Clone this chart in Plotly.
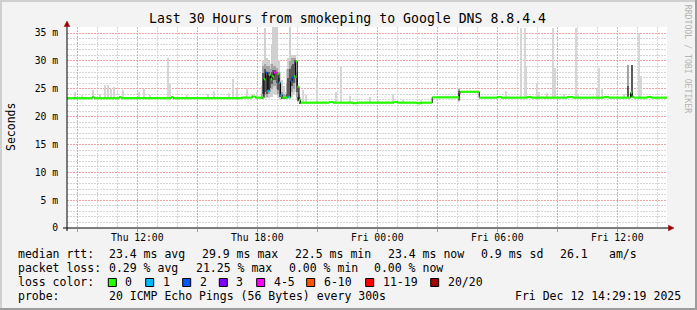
import plotly.graph_objects as go
import pandas as pd
import numpy as np

# ---------------- data ----------------
# median RTT (ms) per step, with lost pings (out of 20) for that step
med_times = [
    "2025-12-11 08:29", "2025-12-11 09:45", "2025-12-11 09:51", "2025-12-11 11:06", "2025-12-11 11:12",
    "2025-12-11 13:42", "2025-12-11 13:48", "2025-12-11 17:12", "2025-12-11 17:45", "2025-12-11 17:54",
    "2025-12-11 18:15", "2025-12-11 18:20", "2025-12-11 18:25", "2025-12-11 18:30", "2025-12-11 18:35",
    "2025-12-11 18:40", "2025-12-11 18:45", "2025-12-11 18:50", "2025-12-11 18:55", "2025-12-11 19:00",
    "2025-12-11 19:05", "2025-12-11 19:10", "2025-12-11 19:15", "2025-12-11 19:20", "2025-12-11 19:25",
    "2025-12-11 19:30", "2025-12-11 19:35", "2025-12-11 19:40", "2025-12-11 19:45", "2025-12-11 19:50",
    "2025-12-11 19:55", "2025-12-11 20:00", "2025-12-11 20:05", "2025-12-11 20:10", "2025-12-11 21:36",
    "2025-12-11 21:48", "2025-12-11 22:48", "2025-12-11 23:00", "2025-12-12 00:50", "2025-12-12 01:02",
    "2025-12-12 02:00", "2025-12-12 02:12", "2025-12-12 02:45", "2025-12-12 04:06", "2025-12-12 04:09",
    "2025-12-12 05:06", "2025-12-12 06:00", "2025-12-12 06:12", "2025-12-12 07:30", "2025-12-12 07:42",
    "2025-12-12 09:30", "2025-12-12 09:48", "2025-12-12 11:20", "2025-12-12 11:35", "2025-12-12 12:40",
    "2025-12-12 12:45", "2025-12-12 12:50", "2025-12-12 13:30", "2025-12-12 13:42", "2025-12-12 14:29",
]
med_ms = [
    23.3, 23.5, 23.3, 23.5, 23.3,
    23.5, 23.3, 23.4, 23.6, 23.4,
    23.4, 26.7, 27.9, 24.6, 27.5,
    26.7, 27.2, 27.9, 27.9, 27.7,
    26.1, 23.9, 23.4, 23.4, 23.4,
    23.5, 23.4, 26.4, 27.0, 27.2,
    29.9, 25.4, 23.0, 22.5, 22.6,
    22.5, 22.4, 22.5, 22.6, 22.5,
    22.4, 22.5, 23.45, 24.2, 24.45,
    23.4, 23.5, 23.4, 23.5, 23.4,
    23.5, 23.4, 23.5, 23.4, 24.3,
    23.6, 23.4, 23.5, 23.4, 23.4,
]
med_loss = [
    0, 0, 0, 0, 0,
    0, 0, 0, 0, 0,
    0, 0, 2, 1, 0,
    0, 0, 4, 4, 0,
    1, 1, 0, 0, 0,
    1, 0, 2, 2, 0,
    0, 0, 0, 0, 0,
    0, 0, 0, 0, 0,
    0, 0, 0, 4, 0,
    0, 0, 0, 0, 0,
    0, 0, 0, 0, 0,
    0, 0, 0, 0, 0,
]

# light smoke spikes (max ping) outside the busy period
spike_times = [
    "2025-12-11 08:54", "2025-12-11 09:15", "2025-12-11 09:48", "2025-12-11 10:09", "2025-12-11 10:24",
    "2025-12-11 10:33", "2025-12-11 10:42", "2025-12-11 10:51", "2025-12-11 11:18", "2025-12-11 12:06",
    "2025-12-11 12:21", "2025-12-11 12:39", "2025-12-11 13:33", "2025-12-11 13:39", "2025-12-11 14:30",
    "2025-12-11 15:33", "2025-12-11 15:51", "2025-12-11 16:36", "2025-12-11 16:48", "2025-12-11 17:00",
    "2025-12-11 17:30", "2025-12-11 17:45", "2025-12-11 18:00", "2025-12-11 20:18", "2025-12-11 20:27",
    "2025-12-11 21:00", "2025-12-11 21:57", "2025-12-11 22:12", "2025-12-11 22:39", "2025-12-11 23:39",
    "2025-12-12 00:03", "2025-12-12 00:48", "2025-12-12 01:18", "2025-12-12 02:12", "2025-12-12 06:26",
    "2025-12-12 07:11", "2025-12-12 07:24", "2025-12-12 07:27", "2025-12-12 07:59", "2025-12-12 08:05",
    "2025-12-12 08:29", "2025-12-12 08:47", "2025-12-12 08:54", "2025-12-12 09:19", "2025-12-12 09:57",
    "2025-12-12 10:03", "2025-12-12 10:59", "2025-12-12 11:04", "2025-12-12 11:15", "2025-12-12 12:19",
    "2025-12-12 13:06", "2025-12-12 13:12",
]
spike_hi = [
    24.5, 23.9, 24.8, 24.1, 25.7,
    25.7, 24.9, 25.3, 24.8, 24.5,
    24.9, 23.9, 30.6, 26.0, 23.9,
    24.0, 24.6, 24.3, 26.7, 24.9,
    25.1, 24.0, 24.5, 24.8, 23.8,
    27.0, 24.5, 29.1, 23.7, 23.5,
    23.0, 24.0, 22.9, 22.9, 24.6,
    35.9, 35.9, 29.0, 26.0, 24.5,
    24.2, 35.9, 28.7, 24.0, 35.9,
    24.0, 25.0, 28.8, 25.2, 24.0,
    35.0, 27.3,
]

# busy-period smoke (5-minute steps): full range, middle band, core band
busy_times = [
    "2025-12-11 18:15", "2025-12-11 18:20", "2025-12-11 18:25", "2025-12-11 18:30", "2025-12-11 18:35",
    "2025-12-11 18:40", "2025-12-11 18:45", "2025-12-11 18:50", "2025-12-11 18:55", "2025-12-11 19:00",
    "2025-12-11 19:05", "2025-12-11 19:10", "2025-12-11 19:15", "2025-12-11 19:20", "2025-12-11 19:25",
    "2025-12-11 19:30", "2025-12-11 19:35", "2025-12-11 19:40", "2025-12-11 19:45", "2025-12-11 19:50",
    "2025-12-11 19:55", "2025-12-11 20:00", "2025-12-11 20:05", "2025-12-11 20:10",
    "2025-12-12 04:06", "2025-12-12 12:34", "2025-12-12 12:46",
]
busy_lo = [23.2, 23.3, 23.4, 23.3, 23.4, 23.5, 23.6, 24.0, 24.0, 23.8, 23.4, 23.2, 23.2, 23.2, 23.2,
           23.2, 23.3, 23.4, 23.6, 24.0, 24.5, 23.2, 22.6, 22.3, 22.7, 23.3, 23.3]
busy_hi = [25.5, 30.2, 35.9, 30.5, 30.0, 29.5, 33.0, 36.0, 36.0, 36.0, 30.0, 28.0, 26.5, 25.5, 24.5,
           28.5, 30.5, 36.0, 31.0, 31.0, 31.0, 30.0, 25.0, 23.5, 25.1, 29.3, 29.2]
mid_lo = [23.3, 23.5, 23.8, 23.5, 24.0, 24.5, 25.0, 25.5, 25.5, 25.0, 24.0, 23.5, 23.3, 23.3, 23.3,
          23.3, 23.4, 24.0, 24.5, 25.0, 26.0, 23.5, 22.8, 22.4, 22.8, 23.4, 23.4]
mid_hi = [24.0, 29.0, 29.5, 29.0, 29.0, 28.5, 29.5, 29.0, 29.0, 28.8, 28.0, 26.0, 24.5, 24.0, 23.8,
          26.0, 28.5, 30.0, 30.5, 30.5, 30.5, 28.0, 24.0, 22.8, 24.9, 29.3, 29.2]
core_lo = [23.3, 24.0, 24.5, 24.0, 24.8, 25.2, 25.8, 26.5, 26.5, 26.0, 24.8, 23.5, 23.3, 23.3, 23.3,
           23.4, 23.5, 25.0, 25.5, 26.0, 27.0, 24.5, 22.8, 22.4, 23.0, 23.5, 23.5]
core_hi = [23.6, 27.8, 28.5, 27.5, 28.0, 27.5, 28.0, 28.3, 28.3, 28.0, 27.0, 24.8, 23.6, 23.6, 23.6,
           24.0, 27.0, 28.5, 29.0, 29.5, 30.2, 27.0, 23.6, 22.7, 24.6, 25.5, 29.2]

y_tickvals = [0, 5, 10, 15, 20, 25, 30, 35]
y_ticktext = ["0", "5 m", "10 m", "15 m", "20 m", "25 m", "30 m", "35 m"]
x_tickvals = ["2025-12-11 09:00", "2025-12-11 12:00", "2025-12-11 15:00", "2025-12-11 18:00",
              "2025-12-11 21:00", "2025-12-12 00:00", "2025-12-12 03:00", "2025-12-12 06:00",
              "2025-12-12 09:00", "2025-12-12 12:00"]
x_ticktext = ["", "Thu 12:00", "", "Thu 18:00", "", "Fri 00:00", "", "Fri 06:00", "", "Fri 12:00"]

loss_labels = ["0", "1", "2", "3", "4-5", "6-10", "11-19", "20/20"]
loss_colors = ["#26ff00", "#00b8ff", "#0059ff", "#7e00ff", "#ff00ff", "#ff5500", "#ff0000", "#a10000"]
loss_upper = [0, 1, 2, 3, 5, 10, 19, 20]

legend_rows = [
    [(16, "median rtt:"), (107.3, "23.4 ms avg"), (200, "29.9 ms max"), (293.3, "22.5 ms min"),
     (386, "23.4 ms now"), (479.3, "0.9 ms sd"), (558.3, "26.1"), (606.7, "am/s")],
    [(16, "packet loss:"), (107.3, "0.29 % avg"), (194, "21.25 % max"), (286.7, "0.00 % min"),
     (371.7, "0.00 % now")],
    [(16, "loss color:")],
    [(16, "probe:"), (107.3, "20 ICMP Echo Pings (56 Bytes) every 300s"), (513.3, "Fri Dec 12 14:29:19 2025")],
]
swatch_x = [108.3, 145.7, 182.7, 219.3, 256.7, 306.7, 365.7, 430.7]
swatch_label_x = [123.3, 160.7, 197.7, 234.3, 271.7, 321.7, 380.7, 445.7]

# ---------------- geometry helpers ----------------
L, R, T, B = 67, 667, 27, 228
W, H = 697, 310
def PX(x): return (x - L) / (R - L)
def PY(y): return (B - y) / (B - T)

FONT = "DejaVu Sans Mono"

mt = pd.to_datetime(med_times)
med = np.array(med_ms)

def loss_color(n):
    for up, c in zip(loss_upper, loss_colors):
        if n <= up:
            return c
    return loss_colors[-1]

fig = go.Figure()

# light smoke spikes, based at the median of their step
st = pd.to_datetime(spike_times)
idx = np.searchsorted(mt.values, st.values, side="right") - 1
spike_lo = med[idx] - 0.1
fig.add_trace(go.Bar(x=st, y=np.array(spike_hi) - spike_lo, base=spike_lo, width=360000,
                     marker=dict(color="#d6d6d6", line_width=0), hoverinfo="skip"))

bt = pd.to_datetime(busy_times)
fig.add_trace(go.Bar(x=bt, y=np.array(busy_hi) - np.array(busy_lo), base=busy_lo, width=330000,
                     marker=dict(color="#d0d0d0", line_width=0), hoverinfo="skip"))
fig.add_trace(go.Bar(x=bt, y=np.array(mid_hi) - np.array(mid_lo), base=mid_lo, width=330000,
                     marker=dict(color="#a4a4a4", line_width=0), hoverinfo="skip"))
fig.add_trace(go.Bar(x=bt, y=np.array(core_hi) - np.array(core_lo), base=core_lo, width=330000,
                     marker=dict(color="#5a5a5a", line_width=0), hoverinfo="skip"))

# black connectors of the median
fig.add_trace(go.Scatter(x=mt, y=med, mode="lines", line_shape="hv",
                         line=dict(color="black", width=1), hoverinfo="skip"))

# coloured horizontal median segments by loss
groups = {}
for i in range(len(mt) - 1):
    c = loss_color(med_loss[i])
    gx, gy = groups.setdefault(c, ([], []))
    gx += [mt[i], mt[i + 1], None]
    gy += [med[i], med[i], None]
for c, (gx, gy) in groups.items():
    fig.add_trace(go.Scatter(x=gx, y=gy, mode="lines", line=dict(color=c, width=2.2),
                             hoverinfo="skip", connectgaps=False))

shapes = []
# frame
shapes.append(dict(type="rect", xref="paper", yref="paper", x0=PX(0), x1=PX(W), y0=PY(0), y1=PY(2),
                   fillcolor="#cfcfcf", line_width=0))
shapes.append(dict(type="rect", xref="paper", yref="paper", x0=PX(0), x1=PX(2), y0=PY(0), y1=PY(H),
                   fillcolor="#cfcfcf", line_width=0))
shapes.append(dict(type="rect", xref="paper", yref="paper", x0=PX(0), x1=PX(W), y0=PY(H - 2), y1=PY(H),
                   fillcolor="#9c9c9c", line_width=0))
shapes.append(dict(type="rect", xref="paper", yref="paper", x0=PX(W - 2), x1=PX(W), y0=PY(0), y1=PY(H),
                   fillcolor="#9c9c9c", line_width=0))
# axes lines
shapes.append(dict(type="line", xref="paper", yref="paper", x0=PX(67), x1=PX(67), y0=PY(231), y1=PY(25),
                   line=dict(color="black", width=1)))
shapes.append(dict(type="line", xref="paper", yref="paper", x0=PX(63), x1=PX(670), y0=PY(228), y1=PY(228),
                   line=dict(color="black", width=1)))
# arrows
shapes.append(dict(type="path", xref="paper", yref="paper",
                   path=f"M {PX(67)} {PY(21)} L {PX(64.2)} {PY(26.5)} L {PX(69.8)} {PY(26.5)} Z",
                   fillcolor="#a00000", line=dict(color="#a00000", width=0.5)))
shapes.append(dict(type="path", xref="paper", yref="paper",
                   path=f"M {PX(674)} {PY(228)} L {PX(668.5)} {PY(225.2)} L {PX(668.5)} {PY(230.8)} Z",
                   fillcolor="#a00000", line=dict(color="#a00000", width=0.5)))
# legend swatches
for x0, c in zip(swatch_x, loss_colors):
    shapes.append(dict(type="rect", xref="paper", yref="paper", x0=PX(x0), x1=PX(x0 + 8),
                       y0=PY(286.5), y1=PY(278.5), fillcolor=c, line=dict(color="black", width=1)))

ann = []
ann.append(dict(text="Last 30 Hours from smokeping to Google DNS 8.8.4.4", x=PX(347.5), y=PY(18.5),
                xref="paper", yref="paper", showarrow=False, xanchor="center", yanchor="middle",
                font=dict(family=FONT, size=13.2, color="black")))
ann.append(dict(text="Seconds", x=PX(10.5), y=PY(127.5), xref="paper", yref="paper", showarrow=False,
                textangle=-90, xanchor="center", yanchor="middle",
                font=dict(family=FONT, size=11.5, color="black")))
ann.append(dict(text="RRDTOOL / TOBI OETIKER", x=PX(688.3), y=PY(59), xref="paper", yref="paper",
                showarrow=False, textangle=90, xanchor="center", yanchor="middle",
                font=dict(family=FONT, size=8.2, color="#b4b4b4")))
row_y = [254, 267.7, 281.7, 295.7]
for ry, row in zip(row_y, legend_rows):
    for x, t in row:
        ann.append(dict(text=t.replace(" ", "\u00a0"), x=PX(x), y=PY(ry), xref="paper", yref="paper",
                        showarrow=False, xanchor="left", yanchor="middle",
                        font=dict(family=FONT, size=11.5, color="black")))
for x, t in zip(swatch_label_x, loss_labels):
    ann.append(dict(text=t, x=PX(x), y=PY(row_y[2]), xref="paper", yref="paper", showarrow=False,
                    xanchor="left", yanchor="middle", font=dict(family=FONT, size=11.5, color="black")))

fig.update_layout(
    width=W, height=H, margin=dict(l=L, r=W - R, t=T, b=H - B, pad=0),
    paper_bgcolor="#f3f3f3", plot_bgcolor="white", showlegend=False, barmode="overlay",
    bargap=0, shapes=shapes, annotations=ann, hovermode=False,
    font=dict(family=FONT, size=9.7, color="black"),
    xaxis=dict(type="date", range=["2025-12-11 08:29:19", "2025-12-12 14:29:19"],
               tickmode="array", tickvals=x_tickvals, ticktext=x_ticktext,
               showgrid=True, gridcolor="#f4a3a3", griddash="2px,1px", gridwidth=1,
               minor=dict(dtick=3600000, tick0="2025-12-11 00:00", showgrid=True,
                          gridcolor="#d6d6d6", griddash="2px,1px"),
               ticks="outside", ticklen=3, tickcolor="#f08080", ticklabelstandoff=-3,
               showline=False, zeroline=False,
               tickfont=dict(family=FONT, size=9.7, color="black"), fixedrange=True),
    yaxis=dict(range=[0, 36.08], tickmode="array", tickvals=y_tickvals, ticktext=y_ticktext,
               showgrid=True, gridcolor="#f4a3a3", griddash="2px,1px", gridwidth=1,
               minor=dict(dtick=1, tick0=0, showgrid=True, gridcolor="#d6d6d6", griddash="2px,1px"),
               ticks="outside", ticklen=0, ticklabelstandoff=6, showline=False, zeroline=False,
               tickfont=dict(family=FONT, size=9.7, color="black"), fixedrange=True),
)

fig.write_html("out.html")
